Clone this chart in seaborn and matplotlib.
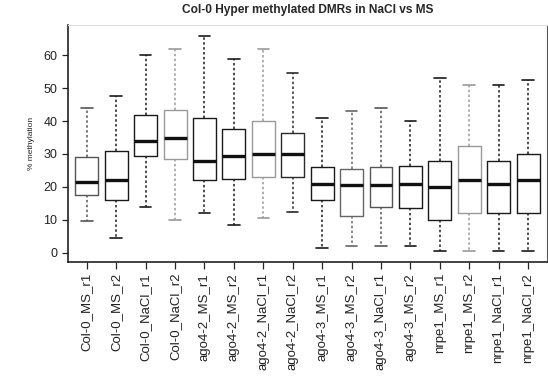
import matplotlib
matplotlib.use("Agg")
import matplotlib.pyplot as plt
import seaborn as sns
import pandas as pd

labels = ["Col-0_MS_r1", "Col-0_MS_r2", "Col-0_NaCl_r1", "Col-0_NaCl_r2",
          "ago4-2_MS_r1", "ago4-2_MS_r2", "ago4-2_NaCl_r1", "ago4-2_NaCl_r2",
          "ago4-3_MS_r1", "ago4-3_MS_r2", "ago4-3_NaCl_r1", "ago4-3_MS_r2",
          "nrpe1_MS_r1", "nrpe1_MS_r2", "nrpe1_NaCl_r1", "nrpe1_NaCl_r2"]
whisker_low = [9.5, 4.5, 14.0, 10.0, 12.0, 8.5, 10.5, 12.5, 1.5, 2.0, 2.0, 2.0, 0.5, 0.5, 0.5, 0.5]
q1 =          [17.5, 16.0, 29.5, 28.5, 22.0, 22.5, 23.0, 23.0, 16.0, 11.0, 14.0, 13.5, 10.0, 12.0, 12.0, 12.0]
median =      [21.5, 22.0, 34.0, 35.0, 28.0, 29.5, 30.0, 30.0, 21.0, 20.5, 20.5, 21.0, 20.0, 22.0, 21.0, 22.0]
q3 =          [29.0, 31.0, 42.0, 43.5, 41.0, 37.5, 40.0, 36.5, 26.0, 25.5, 26.0, 26.5, 28.0, 32.5, 28.0, 30.0]
whisker_high = [44.0, 47.5, 60.0, 62.0, 66.0, 59.0, 62.0, 54.5, 41.0, 43.0, 44.0, 40.0, 53.0, 51.0, 51.0, 52.5]
line_colors = ["#555555", "#1a1a1a", "#1a1a1a", "#9a9a9a", "#1a1a1a", "#1a1a1a", "#9a9a9a", "#2a2a2a",
               "#1a1a1a", "#666666", "#555555", "#1a1a1a", "#1a1a1a", "#9a9a9a", "#1a1a1a", "#1a1a1a"]

ids = [f"s{i:02d}" for i in range(len(labels))]
rows = []
for i, sid in enumerate(ids):
    for v in (whisker_low[i], q1[i], median[i], q3[i], whisker_high[i]):
        rows.append({"sample": sid, "value": v})
df = pd.DataFrame(rows)

sns.set_style("white")
plt.rcParams["font.family"] = ["Liberation Sans", "DejaVu Sans"]

fig = plt.figure(figsize=(5.48, 3.92), dpi=100)
ax = fig.add_axes([0.124, 0.332, 0.874, 0.604])

sns.boxplot(data=df, x="sample", y="value", hue="sample", order=ids, hue_order=ids,
            palette=dict(zip(ids, line_colors)), fill=False, whis=(0, 100),
            width=0.78, linewidth=1.0, legend=False, dodge=False, ax=ax,
            whiskerprops=dict(linestyle=(0, (1.6, 1.6)), linewidth=1.1),
            medianprops=dict(color="#111111", linewidth=2.4),
            capprops=dict(linewidth=1.2))

ax.set_xlim(-0.64, 15.64)
ax.set_ylim(-2.8, 69.2)
ax.set_yticks([0, 10, 20, 30, 40, 50, 60])
ax.set_xticks(range(len(labels)))
ax.set_xticklabels(labels, rotation=90, fontsize=9.5, color="#222222")
ax.tick_params(axis="y", labelsize=9, length=4, width=0.9, colors="#222222", direction="out", left=True)
ax.tick_params(axis="x", length=5, width=0.9, direction="out", bottom=True, pad=3)
ax.set_xlabel("")
ax.set_ylabel("% methylation", fontsize=6, color="#222222", labelpad=6)
ax.set_title("Col-0 Hyper methylated DMRs in NaCl vs MS", fontsize=8.6, fontweight="bold", pad=9)

for side in ["left", "bottom"]:
    ax.spines[side].set_color("#222222")
    ax.spines[side].set_linewidth(1.2)
ax.spines["right"].set_color("#555555")
ax.spines["top"].set_color("#dddddd")

fig.savefig("out.png", dpi=100)
